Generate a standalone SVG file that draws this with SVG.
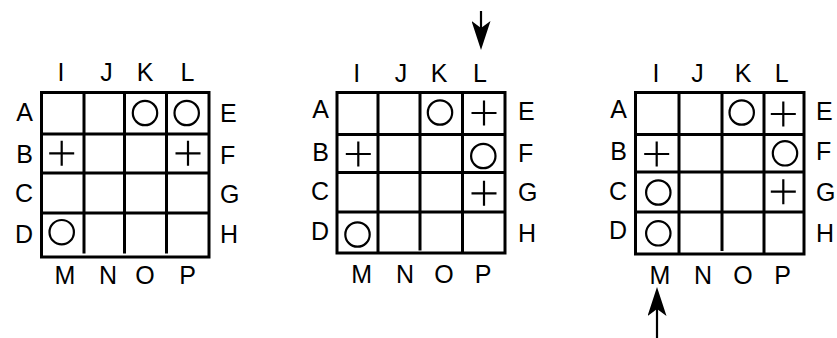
<svg xmlns="http://www.w3.org/2000/svg" width="837" height="338" viewBox="0 0 837 338">
<defs>
<style>
.g{fill:none;stroke:#000;stroke-width:3}
.m{fill:none;stroke:#000;stroke-width:2.2}
text{font-family:"Liberation Sans",Arial,sans-serif;font-size:25px;fill:#000}
.c{text-anchor:middle}
.r{text-anchor:end}
.a{stroke:#000;stroke-width:2.2;fill:none}
</style>
<marker id="ah" viewBox="0 0 29 19" refX="23" refY="9.5" markerWidth="29" markerHeight="19" markerUnits="userSpaceOnUse" orient="auto"><path d="M0,0 L29,9.5 L0,19 L7,9.5 z" fill="#000"/></marker>
<path id="plus" class="m" d="M-12.5,0H12.5M0,-12.5V12.5"/>
</defs>
<rect width="837" height="338" fill="#fff"/>

<g id="grid1">
<rect class="g" x="41.5" y="92.5" width="167.5" height="164.5"/>
<path class="g" d="M41.5,134H209M41.5,173H209M41.5,213H209M84,92.5V253.5M124.5,92.5V253.5M166.5,92.5V253.5"/>
<text class="c" x="61" y="81">I</text><text class="c" x="106.5" y="81">J</text><text class="c" x="145" y="81">K</text><text class="c" x="187.5" y="81">L</text>
<text class="c" x="65" y="284">M</text><text class="c" x="108" y="284">N</text><text class="c" x="145" y="284">O</text><text class="c" x="187.5" y="284">P</text>
<text class="r" x="33" y="121">A</text><text class="r" x="33" y="163">B</text><text class="r" x="33" y="202">C</text><text class="r" x="33" y="242.5">D</text>
<text x="220" y="122">E</text><text x="220" y="164">F</text><text x="220" y="202.5">G</text><text x="220" y="243">H</text>
<circle class="m" cx="145" cy="113" r="12.2"/><circle class="m" cx="186.7" cy="113" r="12.2"/><circle class="m" cx="61.7" cy="232.2" r="12.2"/>
<use href="#plus" x="61.7" y="153.3"/><use href="#plus" x="188" y="153.3"/>
</g>

<g id="grid2">
<rect class="g" x="337" y="92.5" width="168" height="160.5"/>
<path class="g" d="M337,134.5H505M337,172.5H505M337,212H505M378,92.5V253M420,92.5V250.5M462.5,92.5V253"/>
<text class="c" x="356.7" y="81.5">I</text><text class="c" x="401" y="81.5">J</text><text class="c" x="439" y="81.5">K</text><text class="c" x="480" y="81.5">L</text>
<text class="c" x="361.7" y="283">M</text><text class="c" x="405" y="283">N</text><text class="c" x="444" y="283">O</text><text class="c" x="483" y="283">P</text>
<text class="r" x="329" y="117.5">A</text><text class="r" x="329" y="160.5">B</text><text class="r" x="329" y="200">C</text><text class="r" x="329" y="240">D</text>
<text x="518" y="120">E</text><text x="518" y="161.5">F</text><text x="518" y="201">G</text><text x="518" y="241.5">H</text>
<circle class="m" cx="440" cy="112.5" r="12.2"/><circle class="m" cx="483.3" cy="156" r="12.2"/><circle class="m" cx="357.5" cy="234.5" r="12.2"/>
<use href="#plus" x="484" y="113"/><use href="#plus" x="358.3" y="154"/><use href="#plus" x="484" y="193.3"/>
</g>

<g id="grid3">
<rect class="g" x="635.5" y="92.5" width="168.5" height="161.5"/>
<path class="g" d="M635.5,134.5H804M635.5,172H804M635.5,212H804M679,92.5V254M722,92.5V251M764,92.5V254"/>
<text class="c" x="656" y="82">I</text><text class="c" x="697.5" y="82">J</text><text class="c" x="743" y="82">K</text><text class="c" x="781.7" y="82">L</text>
<text class="c" x="660" y="284">M</text><text class="c" x="703" y="284">N</text><text class="c" x="743" y="284">O</text><text class="c" x="782.5" y="284">P</text>
<text class="r" x="627" y="118">A</text><text class="r" x="627" y="160">B</text><text class="r" x="627" y="200">C</text><text class="r" x="627" y="238.5">D</text>
<text x="816" y="120">E</text><text x="816" y="160">F</text><text x="816" y="201">G</text><text x="816" y="241.5">H</text>
<circle class="m" cx="741.7" cy="112.5" r="12.2"/><circle class="m" cx="785" cy="153.3" r="12.2"/><circle class="m" cx="658.3" cy="192.5" r="12.2"/><circle class="m" cx="658.3" cy="233.3" r="12.2"/>
<use href="#plus" x="783.3" y="114"/><use href="#plus" x="656.7" y="154"/><use href="#plus" x="783.3" y="191.7"/>
</g>

<g id="connectors">
<line class="a" x1="481" y1="11" x2="481" y2="44" marker-end="url(#ah)"/>
<line class="a" x1="657" y1="338" x2="657" y2="293" marker-end="url(#ah)"/>
</g>
</svg>
